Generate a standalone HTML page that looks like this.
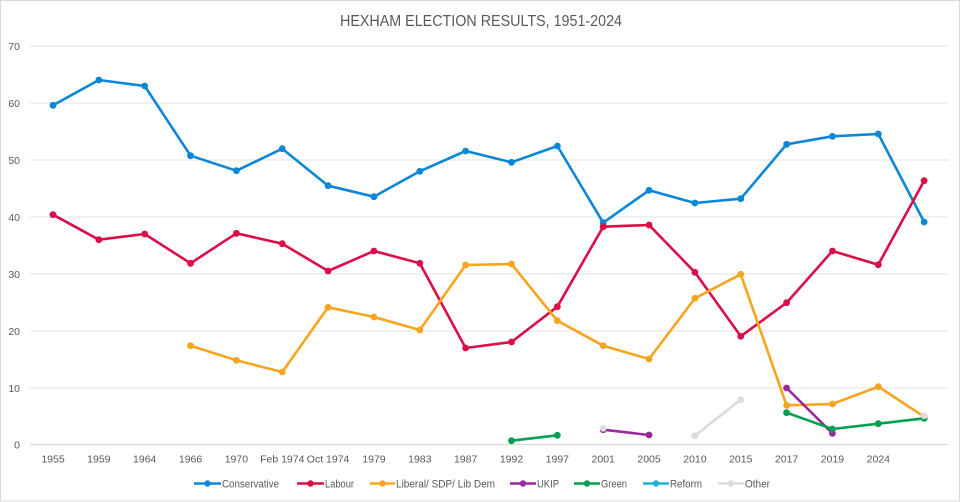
<!DOCTYPE html>
<html><head><meta charset="utf-8"><style>
html,body{margin:0;padding:0;background:#fff;}
svg{display:block;}
text{font-family:"Liberation Sans",sans-serif;}
</style></head><body>
<svg width="960" height="502" viewBox="0 0 960 502" xmlns="http://www.w3.org/2000/svg">
<rect x="0.5" y="0.5" width="959" height="500.5" fill="#fff" stroke="#d9d9d9" stroke-width="1"/>
<text x="481" y="26" text-anchor="middle" font-size="15.5" fill="#595959" textLength="282" lengthAdjust="spacingAndGlyphs">HEXHAM ELECTION RESULTS, 1951-2024</text>
<g stroke="#e8e8e8" stroke-width="1.3">
<line x1="30" y1="46" x2="948" y2="46"/>
<line x1="30" y1="103" x2="948" y2="103"/>
<line x1="30" y1="160" x2="948" y2="160"/>
<line x1="30" y1="217" x2="948" y2="217"/>
<line x1="30" y1="274" x2="948" y2="274"/>
<line x1="30" y1="331" x2="948" y2="331"/>
<line x1="30" y1="388" x2="948" y2="388"/>
</g>
<line x1="30" y1="444.5" x2="948" y2="444.5" stroke="#d9d9d9" stroke-width="1.2"/>
<g font-size="10.5" fill="#595959" text-anchor="end">
<text x="20" y="49.8">70</text>
<text x="20" y="106.8">60</text>
<text x="20" y="163.8">50</text>
<text x="20" y="220.8">40</text>
<text x="20" y="277.8">30</text>
<text x="20" y="334.8">20</text>
<text x="20" y="391.8">10</text>
<text x="20" y="448.3">0</text>
</g>
<g font-size="10.5" fill="#595959" text-anchor="middle">
<text x="53" y="462.5">1955</text>
<text x="98.85" y="462.5">1959</text>
<text x="144.7" y="462.5">1964</text>
<text x="190.55" y="462.5">1966</text>
<text x="236.4" y="462.5">1970</text>
<text x="282.25" y="462.5">Feb 1974</text>
<text x="328.1" y="462.5">Oct 1974</text>
<text x="373.95" y="462.5">1979</text>
<text x="419.8" y="462.5">1983</text>
<text x="465.65" y="462.5">1987</text>
<text x="511.5" y="462.5">1992</text>
<text x="557.35" y="462.5">1997</text>
<text x="603.2" y="462.5">2001</text>
<text x="649.05" y="462.5">2005</text>
<text x="694.9" y="462.5">2010</text>
<text x="740.75" y="462.5">2015</text>
<text x="786.6" y="462.5">2017</text>
<text x="832.45" y="462.5">2019</text>
<text x="878.3" y="462.5">2024</text>
</g>

<!-- Conservative -->
<g fill="#0B87D8" stroke="none">
<polyline fill="none" stroke="#0B87D8" stroke-width="2.6" stroke-linejoin="round" points="53,105.3 98.85,80 144.7,86 190.55,155.7 236.4,170.7 282.25,148.7 328.1,185.7 373.95,196.7 419.8,171.3 465.65,151 511.5,162.3 557.35,146 603.2,222.7 649.05,190.3 694.9,203 740.75,198.7 786.6,144.3 832.45,136.3 878.3,134 924.15,222"/>
<circle cx="53" cy="105.3" r="3.4"/><circle cx="98.85" cy="80" r="3.4"/><circle cx="144.7" cy="86" r="3.4"/><circle cx="190.55" cy="155.7" r="3.4"/><circle cx="236.4" cy="170.7" r="3.4"/><circle cx="282.25" cy="148.7" r="3.4"/><circle cx="328.1" cy="185.7" r="3.4"/><circle cx="373.95" cy="196.7" r="3.4"/><circle cx="419.8" cy="171.3" r="3.4"/><circle cx="465.65" cy="151" r="3.4"/><circle cx="511.5" cy="162.3" r="3.4"/><circle cx="557.35" cy="146" r="3.4"/><circle cx="603.2" cy="222.7" r="3.4"/><circle cx="649.05" cy="190.3" r="3.4"/><circle cx="694.9" cy="203" r="3.4"/><circle cx="740.75" cy="198.7" r="3.4"/><circle cx="786.6" cy="144.3" r="3.4"/><circle cx="832.45" cy="136.3" r="3.4"/><circle cx="878.3" cy="134" r="3.4"/><circle cx="924.15" cy="222" r="3.4"/>
</g>

<!-- Labour -->
<g fill="#DA0F47" stroke="none">
<polyline fill="none" stroke="#DA0F47" stroke-width="2.6" stroke-linejoin="round" points="53,214.7 98.85,239.7 144.7,234 190.55,263.3 236.4,233.3 282.25,243.7 328.1,271 373.95,251 419.8,263.3 465.65,348 511.5,342 557.35,306.7 603.2,226.7 649.05,225 694.9,272.3 740.75,336.3 786.6,302.7 832.45,251 878.3,264.7 924.15,180.7"/>
<circle cx="53" cy="214.7" r="3.4"/><circle cx="98.85" cy="239.7" r="3.4"/><circle cx="144.7" cy="234" r="3.4"/><circle cx="190.55" cy="263.3" r="3.4"/><circle cx="236.4" cy="233.3" r="3.4"/><circle cx="282.25" cy="243.7" r="3.4"/><circle cx="328.1" cy="271" r="3.4"/><circle cx="373.95" cy="251" r="3.4"/><circle cx="419.8" cy="263.3" r="3.4"/><circle cx="465.65" cy="348" r="3.4"/><circle cx="511.5" cy="342" r="3.4"/><circle cx="557.35" cy="306.7" r="3.4"/><circle cx="603.2" cy="226.7" r="3.4"/><circle cx="649.05" cy="225" r="3.4"/><circle cx="694.9" cy="272.3" r="3.4"/><circle cx="740.75" cy="336.3" r="3.4"/><circle cx="786.6" cy="302.7" r="3.4"/><circle cx="832.45" cy="251" r="3.4"/><circle cx="878.3" cy="264.7" r="3.4"/><circle cx="924.15" cy="180.7" r="3.4"/>
</g>

<!-- Liberal -->
<g fill="#F8A51E" stroke="none">
<polyline fill="none" stroke="#F8A51E" stroke-width="2.6" stroke-linejoin="round" points="190.55,345.7 236.4,360.3 282.25,372 328.1,307.3 373.95,317 419.8,330 465.65,265 511.5,264 557.35,320.7 603.2,345.7 649.05,359 694.9,298.3 740.75,274.3 786.6,405.3 832.45,404 878.3,386.7 924.15,416.7"/>
<circle cx="190.55" cy="345.7" r="3.4"/><circle cx="236.4" cy="360.3" r="3.4"/><circle cx="282.25" cy="372" r="3.4"/><circle cx="328.1" cy="307.3" r="3.4"/><circle cx="373.95" cy="317" r="3.4"/><circle cx="419.8" cy="330" r="3.4"/><circle cx="465.65" cy="265" r="3.4"/><circle cx="511.5" cy="264" r="3.4"/><circle cx="557.35" cy="320.7" r="3.4"/><circle cx="603.2" cy="345.7" r="3.4"/><circle cx="649.05" cy="359" r="3.4"/><circle cx="694.9" cy="298.3" r="3.4"/><circle cx="740.75" cy="274.3" r="3.4"/><circle cx="786.6" cy="405.3" r="3.4"/><circle cx="832.45" cy="404" r="3.4"/><circle cx="878.3" cy="386.7" r="3.4"/><circle cx="924.15" cy="416.7" r="3.4"/>
</g>

<!-- UKIP -->
<g fill="#9A2A9C" stroke="none">
<polyline fill="none" stroke="#9A2A9C" stroke-width="2.6" points="603.2,429.7 649.05,435"/>
<polyline fill="none" stroke="#9A2A9C" stroke-width="2.6" points="786.6,388 832.45,433.3"/>
<circle cx="603.2" cy="429.7" r="3.4"/><circle cx="649.05" cy="435" r="3.4"/><circle cx="786.6" cy="388" r="3.4"/><circle cx="832.45" cy="433.3" r="3.4"/>
</g>

<!-- Green -->
<g fill="#03A054" stroke="none">
<polyline fill="none" stroke="#03A054" stroke-width="2.6" points="511.5,440.7 557.35,435.3"/>
<polyline fill="none" stroke="#03A054" stroke-width="2.6" stroke-linejoin="round" points="786.6,412.7 832.45,429 878.3,423.7 924.15,418.3"/>
<circle cx="511.5" cy="440.7" r="3.4"/><circle cx="557.35" cy="435.3" r="3.4"/><circle cx="786.6" cy="412.7" r="3.4"/><circle cx="832.45" cy="429" r="3.4"/><circle cx="878.3" cy="423.7" r="3.4"/><circle cx="924.15" cy="418.3" r="3.4"/>
</g>

<!-- Other -->
<g fill="#DCDCDC" stroke="none">
<polyline fill="none" stroke="#DCDCDC" stroke-width="2.6" points="694.9,435.7 740.75,399.7"/>
<circle cx="603.2" cy="428.3" r="3.4"/><circle cx="694.9" cy="435.7" r="3.4"/><circle cx="740.75" cy="399.7" r="3.4"/><circle cx="924.15" cy="415.7" r="3.4"/>
</g>

<!-- Legend -->
<g stroke-width="2.6">
<line x1="194" y1="483.5" x2="221" y2="483.5" stroke="#0B87D8"/><circle cx="207.5" cy="483.5" r="3.2" fill="#0B87D8" stroke="none"/>
<line x1="297" y1="483.5" x2="324" y2="483.5" stroke="#DA0F47"/><circle cx="310.5" cy="483.5" r="3.2" fill="#DA0F47" stroke="none"/>
<line x1="370" y1="483.5" x2="395" y2="483.5" stroke="#F8A51E"/><circle cx="382.5" cy="483.5" r="3.2" fill="#F8A51E" stroke="none"/>
<line x1="510" y1="483.5" x2="536" y2="483.5" stroke="#9A2A9C"/><circle cx="523" cy="483.5" r="3.2" fill="#9A2A9C" stroke="none"/>
<line x1="574" y1="483.5" x2="600" y2="483.5" stroke="#03A054"/><circle cx="587" cy="483.5" r="3.2" fill="#03A054" stroke="none"/>
<line x1="643" y1="483.5" x2="669" y2="483.5" stroke="#1DB3D3"/><circle cx="656" cy="483.5" r="3.2" fill="#1DB3D3" stroke="none"/>
<line x1="718" y1="483.5" x2="744" y2="483.5" stroke="#DCDCDC"/><circle cx="731" cy="483.5" r="3.2" fill="#DCDCDC" stroke="none"/>
</g>
<g font-size="10.8" fill="#595959">
<text x="222" y="487.3" textLength="57" lengthAdjust="spacingAndGlyphs">Conservative</text>
<text x="325" y="487.3" textLength="29" lengthAdjust="spacingAndGlyphs">Labour</text>
<text x="396" y="487.3" textLength="99" lengthAdjust="spacingAndGlyphs">Liberal/ SDP/ Lib  Dem</text>
<text x="537" y="487.3" textLength="22" lengthAdjust="spacingAndGlyphs">UKIP</text>
<text x="601" y="487.3" textLength="26" lengthAdjust="spacingAndGlyphs">Green</text>
<text x="670" y="487.3" textLength="32" lengthAdjust="spacingAndGlyphs">Reform</text>
<text x="745" y="487.3" textLength="25" lengthAdjust="spacingAndGlyphs">Other</text>
</g>
</svg>
</body></html>
